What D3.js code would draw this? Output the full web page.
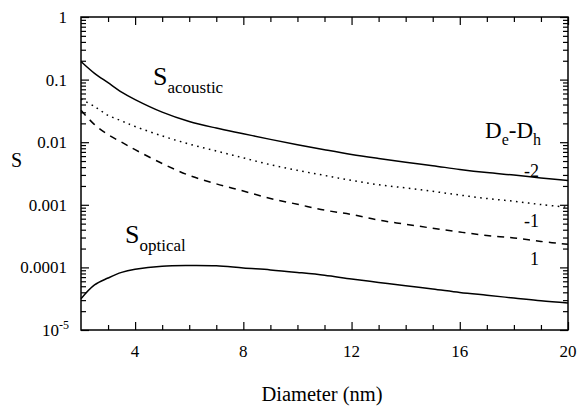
<!DOCTYPE html>
<html>
<head>
<meta charset="utf-8">
<script src="https://cdn.jsdelivr.net/npm/d3@7"></script>
<style>
  body { margin: 0; background: #fff; }
</style>
</head>
<body>
<svg width="579" height="407"></svg>
<script>
const svg = d3.select("svg");

// diameter (nm)
const diameters = [2, 2.5, 3, 3.5, 4, 5, 6, 7, 8, 9, 10, 11, 12, 13, 14, 15, 16, 17, 18, 19, 20];
// S acoustic, De-Dh = -2 (solid)
const sAcousticM2 = [0.195, 0.126, 0.0891, 0.0631, 0.0479, 0.0302, 0.0214, 0.0168, 0.01365, 0.0111, 0.00912,
  0.00759, 0.00638, 0.0055, 0.00479, 0.00422, 0.00367, 0.00327, 0.00299, 0.00269, 0.00245];
// De-Dh = -1 (dotted)
const sAcousticM1 = [0.049, 0.0372, 0.0269, 0.0219, 0.0178, 0.0126, 0.00933, 0.00724, 0.00562, 0.00437, 0.00355,
  0.00295, 0.00245, 0.00209, 0.00186, 0.00164, 0.00143, 0.00126, 0.00114, 0.00101, 0.000912];
// De-Dh = 1 (dashed)
const sAcousticP1 = [0.0324, 0.0191, 0.0132, 0.0100, 0.00759, 0.00457, 0.00295, 0.00216, 0.00166, 0.00126, 0.00102,
  0.000822, 0.000700, 0.000569, 0.000490, 0.000422, 0.000367, 0.000324, 0.000295, 0.000260, 0.000234];
// S optical
const sOptical = [3.16e-5, 5.25e-5, 6.76e-5, 8.32e-5, 9.33e-5, 1.047e-4, 1.072e-4, 1.06e-4, 9.77e-5, 9.12e-5, 8.32e-5,
  7.50e-5, 6.53e-5, 5.75e-5, 5.07e-5, 4.52e-5, 3.98e-5, 3.59e-5, 3.24e-5, 2.92e-5, 2.69e-5];

const xTicks = [4, 8, 12, 16, 20];
const yTicks = [1, 0.1, 0.01, 0.001, 0.0001, 1e-5];
const yTickLabels = ["1", "0.1", "0.01", "0.001", "0.0001", "10"];

const margin = {top: 17, right: 11, bottom: 77, left: 81};
const width = 579 - margin.left - margin.right;
const height = 407 - margin.top - margin.bottom;

const x = d3.scaleLinear().domain([2, 20]).range([0, width]);
const y = d3.scaleLog().domain([1e-5, 1]).range([height, 0]);

const g = svg.append("g").attr("transform", `translate(${margin.left},${margin.top})`);

// minor ticks
const xMinor = d3.range(3, 20, 1).filter(d => d % 4 !== 0);
const yMinor = [];
for (let e = -5; e < 0; e++) for (let k = 2; k <= 9; k++) yMinor.push(k * Math.pow(10, e));

const tickStroke = (sel) => sel.selectAll("line").attr("stroke", "#000").attr("stroke-width", 1.2);

// bottom
g.append("g").attr("transform", `translate(0,${height})`)
  .call(d3.axisBottom(x).tickValues(xTicks).tickSize(-8).tickFormat(""))
  .call(s => s.select(".domain").remove()).call(tickStroke);
g.append("g").attr("transform", `translate(0,${height})`)
  .call(d3.axisBottom(x).tickValues(xMinor).tickSize(-5).tickFormat(""))
  .call(s => s.select(".domain").remove()).call(tickStroke);
// top
g.append("g")
  .call(d3.axisTop(x).tickValues(xTicks).tickSize(-8).tickFormat(""))
  .call(s => s.select(".domain").remove()).call(tickStroke);
g.append("g")
  .call(d3.axisTop(x).tickValues(xMinor).tickSize(-5).tickFormat(""))
  .call(s => s.select(".domain").remove()).call(tickStroke);
// left
g.append("g")
  .call(d3.axisLeft(y).tickValues(yTicks).tickSize(-8).tickFormat(""))
  .call(s => s.select(".domain").remove()).call(tickStroke);
g.append("g")
  .call(d3.axisLeft(y).tickValues(yMinor).tickSize(-5).tickFormat(""))
  .call(s => s.select(".domain").remove()).call(tickStroke);
// right
g.append("g").attr("transform", `translate(${width},0)`)
  .call(d3.axisRight(y).tickValues(yTicks).tickSize(-8).tickFormat(""))
  .call(s => s.select(".domain").remove()).call(tickStroke);
g.append("g").attr("transform", `translate(${width},0)`)
  .call(d3.axisRight(y).tickValues(yMinor).tickSize(-5).tickFormat(""))
  .call(s => s.select(".domain").remove()).call(tickStroke);

// frame
g.append("rect").attr("width", width).attr("height", height)
  .attr("fill", "none").attr("stroke", "#000").attr("stroke-width", 1.5);

// tick labels
g.selectAll(".xlab").data(xTicks).enter().append("text")
  .attr("x", d => x(d)).attr("y", height + 27)
  .attr("text-anchor", "middle").attr("font-size", 17).text(d => d);

const yl = g.selectAll(".ylab").data(yTicks).enter().append("text")
  .attr("x", -14).attr("y", d => y(d) + 6)
  .attr("text-anchor", "end").attr("font-size", 17);
yl.append("tspan").text((d, i) => yTickLabels[i]);
yl.filter(d => d === 1e-5).append("tspan").attr("font-size", 12).attr("dy", -7).text("-5");
yl.filter(d => d === 1e-5).attr("x", -12);

// axis titles
svg.append("text").attr("x", 322).attr("y", 401)
  .attr("text-anchor", "middle").attr("font-size", 20.5).text("Diameter (nm)");
svg.append("text").attr("x", 11).attr("y", 167).attr("font-size", 20).text("S");

// curves
const line = d3.line().x((d, i) => x(diameters[i])).y(d => y(d)).curve(d3.curveCatmullRom.alpha(0.5));
const curves = [
  {values: sAcousticM2, dash: null},
  {values: sAcousticM1, dash: "1.6,4.4"},
  {values: sAcousticP1, dash: "7,6"},
  {values: sOptical, dash: null}
];
g.selectAll(".curve").data(curves).enter().append("path")
  .attr("d", d => line(d.values))
  .attr("fill", "none").attr("stroke", "#000").attr("stroke-width", 1.5)
  .attr("stroke-dasharray", d => d.dash);

// labels in plot
const sub = (xp, yp, big, small, bigSize, smallSize) => {
  const t = svg.append("text").attr("x", xp).attr("y", yp).attr("font-size", bigSize);
  t.append("tspan").text(big);
  t.append("tspan").attr("font-size", smallSize).attr("dy", 8).text(small);
  return t;
};
sub(153, 85, "S", "acoustic", 26, 17);
sub(125, 243, "S", "optical", 26, 17);

const dd = svg.append("text").attr("x", 485).attr("y", 138).attr("font-size", 23);
dd.append("tspan").text("D");
dd.append("tspan").attr("font-size", 16).attr("dy", 7).text("e");
dd.append("tspan").attr("dy", -7).text("-D");
dd.append("tspan").attr("font-size", 16).attr("dy", 7).text("h");

svg.append("text").attr("x", 539).attr("y", 177).attr("text-anchor", "end").attr("font-size", 18).text("-2");
svg.append("text").attr("x", 539).attr("y", 227).attr("text-anchor", "end").attr("font-size", 18).text("-1");
svg.append("text").attr("x", 539).attr("y", 265).attr("text-anchor", "end").attr("font-size", 18).text("1");

// serif face on every text
svg.selectAll("text").style("font-family", '"Liberation Serif"').style("fill", "#000");
</script>
</body>
</html>
